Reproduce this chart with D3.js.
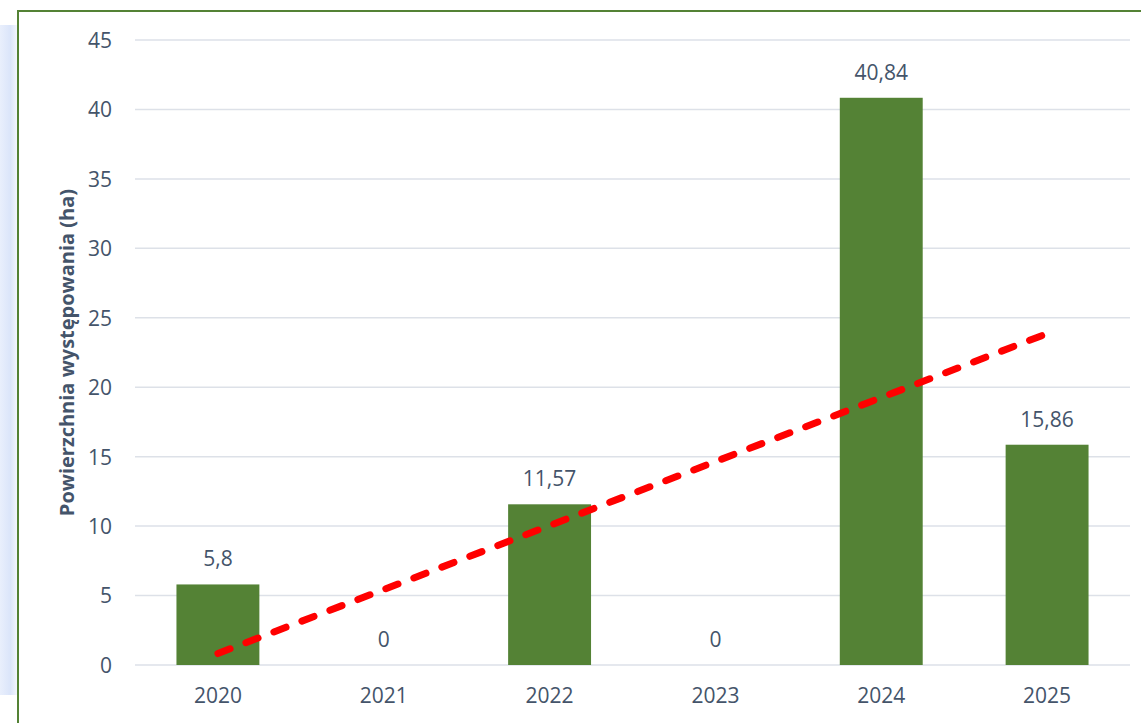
<!DOCTYPE html>
<html>
<head>
<meta charset="utf-8">
<script src="https://cdn.jsdelivr.net/npm/d3@7"></script>
<style>
  html, body { margin: 0; padding: 0; background: #ffffff; }
  svg { display: block; }
</style>
</head>
<body>
<svg id="chart" width="1141" height="723"></svg>
<script>
// Surface area by year (ha)
const years = ["2020", "2021", "2022", "2023", "2024", "2025"];
const areas = [5.8, 0, 11.57, 0, 40.84, 15.86];
const valueLabels = ["5,8", "0", "11,57", "0", "40,84", "15,86"];
const yTicks = [0, 5, 10, 15, 20, 25, 30, 35, 40, 45];
const yTitle = "Powierzchnia występowania (ha)";

const svg = d3.select("#chart");
const W = 1141, H = 723;
const plot = { left: 135, right: 1130, top: 40, bottom: 665 };
const textColor = "#44546a";
const font = "'Open Sans', 'Noto Sans', sans-serif";

// soft bluish edge on the left, outside the frame
const defs = svg.append("defs");
const grad = defs.append("linearGradient").attr("id", "edge").attr("x1", 0).attr("x2", 1);
grad.append("stop").attr("offset", 0).attr("stop-color", "#e9effc");
grad.append("stop").attr("offset", 0.6).attr("stop-color", "#dbe5fa");
grad.append("stop").attr("offset", 1).attr("stop-color", "#f3f6fd");
svg.append("rect").attr("x", 0).attr("y", 25).attr("width", 17).attr("height", 670)
  .attr("fill", "url(#edge)");

// chart frame
svg.append("rect").attr("x", 18).attr("y", 11).attr("width", W + 20).attr("height", H + 20)
  .attr("fill", "#ffffff").attr("stroke", "#548235").attr("stroke-width", 2);

const x = d3.scaleBand().domain(years).range([plot.left, plot.right]).paddingInner(0.5).paddingOuter(0.25);
const y = d3.scaleLinear().domain([0, 45]).range([plot.bottom, plot.top]);

// horizontal gridlines
svg.append("g").selectAll("line").data(yTicks).join("line")
  .attr("x1", plot.left).attr("x2", plot.right)
  .attr("y1", d => y(d)).attr("y2", d => y(d))
  .attr("stroke", "#dde1e8").attr("stroke-width", 1.5);

// y axis labels
const yAxis = svg.append("g").attr("transform", `translate(${plot.left - 23},0)`)
  .call(d3.axisLeft(y).tickValues(yTicks).tickSize(0).tickPadding(0));
yAxis.select(".domain").remove();
yAxis.selectAll("text").attr("fill", textColor).style("font-family", font).style("font-size", "21px")
  .attr("dy", "0.35em");

// x axis labels
const xAxis = svg.append("g").attr("transform", `translate(0,${plot.bottom})`)
  .call(d3.axisBottom(x).tickSize(0).tickPadding(25));
xAxis.select(".domain").remove();
xAxis.selectAll("text").attr("fill", textColor).style("font-family", font).style("font-size", "21px")
  .attr("dy", "0.6em");

// bars
svg.append("g").selectAll("rect").data(years).join("rect")
  .attr("x", d => x(d)).attr("width", x.bandwidth())
  .attr("y", (d, i) => y(areas[i]))
  .attr("height", (d, i) => y(0) - y(areas[i]))
  .attr("fill", "#548235");

// value labels
svg.append("g").selectAll("text").data(years).join("text")
  .attr("x", d => x(d) + x.bandwidth() / 2)
  .attr("y", (d, i) => y(areas[i]) - 18)
  .attr("text-anchor", "middle")
  .attr("fill", textColor).style("font-family", font).style("font-size", "21px")
  .text((d, i) => valueLabels[i]);

// linear trend (least squares over the year index)
const n = areas.length;
const idx = d3.range(1, n + 1);
const mx = d3.mean(idx), my = d3.mean(areas);
const slope = d3.sum(idx, (k, i) => (k - mx) * (areas[i] - my)) / d3.sum(idx, k => (k - mx) ** 2);
const intercept = my - slope * mx;
const trend = years.map((d, i) => ({ year: d, v: intercept + slope * idx[i] }));
const line = d3.line().x(d => x(d.year) + x.bandwidth() / 2).y(d => y(d.v));
svg.append("path").datum([trend[0], trend[n - 1]])
  .attr("d", line).attr("fill", "none")
  .attr("stroke", "#ff0000").attr("stroke-width", 7)
  .attr("stroke-linecap", "round").attr("stroke-dasharray", "13 17");

// y axis title
svg.append("text")
  .attr("transform", `translate(74,${(plot.top + plot.bottom) / 2 + 0}) rotate(-90)`)
  .attr("text-anchor", "middle")
  .attr("fill", textColor).style("font-family", font).style("font-size", "20px").style("font-weight", "bold")
  .text(yTitle);
</script>
</body>
</html>
